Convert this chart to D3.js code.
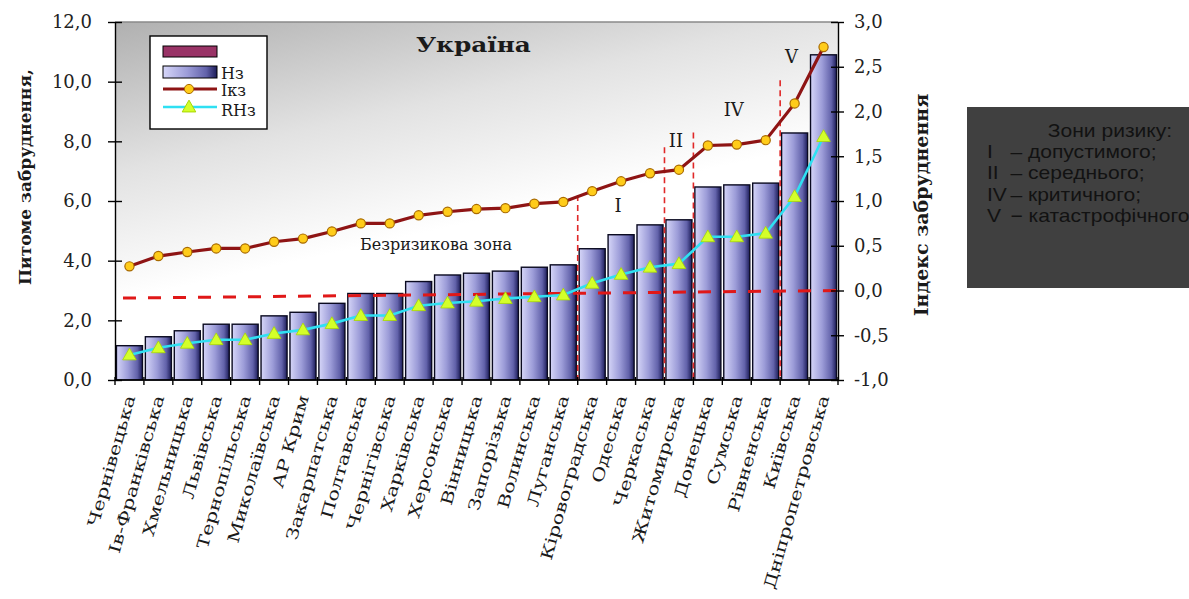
<!DOCTYPE html>
<html lang="uk">
<head>
<meta charset="UTF-8">
<title>Україна</title>
<script src="https://d3js.org/d3.v7.min.js"></script>
<style>
  body { margin: 0; background: #fff; }
  svg { display: block; }
  .serif { font-family: "DejaVu Serif", "Liberation Serif", serif; fill: #1a1a1a; }
  .axis text { font-family: "DejaVu Serif", serif; font-size: 18px; fill: #222; }
  .axis path, .axis line { stroke: #000; stroke-width: 1.4; }
</style>
</head>
<body>
<svg width="1189" height="599"></svg>
<script>
const regions = ["Чернівецька", "Ів-Франківська", "Хмельницька", "Львівська", "Тернопільська",
  "Миколаївська", "АР Крим", "Закарпатська", "Полтавська", "Чернігівська", "Харківська",
  "Херсонська", "Вінницька", "Запорізька", "Волинська", "Луганська", "Кіровоградська",
  "Одеська", "Черкаська", "Житомирська", "Донецька", "Сумська", "Рівненська", "Київська",
  "Дніпропетровська"];
// Питоме забруднення (ліва вісь)
const h3Values = [1.15, 1.45, 1.65, 1.87, 1.87, 2.15, 2.27, 2.57, 2.9, 2.9, 3.3, 3.52, 3.58,
  3.65, 3.78, 3.86, 4.4, 4.87, 5.2, 5.37, 6.47, 6.54, 6.6, 8.28, 10.9];
// Індекс забруднення (права вісь)
const ikzValues = [0.27, 0.385, 0.43, 0.47, 0.47, 0.545, 0.58, 0.66, 0.75, 0.75, 0.84, 0.88,
  0.91, 0.92, 0.97, 0.99, 1.11, 1.22, 1.31, 1.35, 1.62, 1.63, 1.68, 2.09, 2.72];
const rh3Values = [-0.72, -0.64, -0.59, -0.55, -0.55, -0.48, -0.44, -0.37, -0.28, -0.28, -0.17,
  -0.14, -0.12, -0.09, -0.07, -0.05, 0.08, 0.18, 0.26, 0.30, 0.60, 0.60, 0.64, 1.05, 1.72];
const leftTicks = [0, 2, 4, 6, 8, 10, 12];
const rightTicks = [-1, -0.5, 0, 0.5, 1, 1.5, 2, 2.5, 3];
// межі зон: після якого регіону і до якої висоти (ліва вісь)
const zoneBounds = [
  { after: "Луганська", top: 6.2 },
  { after: "Черкаська", top: 7.8 },
  { after: "Житомирська", top: 8.3 },
  { after: "Рівненська", top: 10.05 }
];
const zoneLabels = [
  { text: "I", after: "Одеська", y: 0.88 },
  { text: "II", after: "Житомирська", y: 1.6 },
  { text: "IV", after: "Сумська", y: 1.95 },
  { text: "V", after: "Київська", y: 2.54 }
];
const zeroLine = [-0.085, 0];
const riskLines = [
  { num: "I", txt: "– допустимого;" },
  { num: "II", txt: "– середнього;" },
  { num: "IV", txt: "– критичного;" },
  { num: "V", txt: "− катастрофічного" }
];

const data = regions.map((r, i) => ({ region: r, h3: h3Values[i], ikz: ikzValues[i], rh3: rh3Values[i] }));

const svg = d3.select("svg");
const plotL = 115, plotR = 838, plotT = 22, plotB = 380;

const x = d3.scaleBand().domain(regions).range([plotL, plotR]).paddingInner(0.1).paddingOuter(0.05);
const yL = d3.scaleLinear().domain([0, 12]).range([plotB, plotT]);
const yR = d3.scaleLinear().domain([-1, 3]).range([plotB, plotT]);
const cx = d => x(d) + x.bandwidth() / 2;
const edge = d => x(d) + x.bandwidth() + x.step() * x.paddingInner() / 2;

const defs = svg.append("defs");
const bg = defs.append("linearGradient").attr("id", "bg")
  .attr("x1", 0).attr("y1", 0).attr("x2", 0.45).attr("y2", 1);
bg.append("stop").attr("offset", 0).attr("stop-color", "#b0b0b0");
bg.append("stop").attr("offset", 0.35).attr("stop-color", "#e2e2e2");
bg.append("stop").attr("offset", 0.65).attr("stop-color", "#ffffff");

const barGrad = defs.append("linearGradient").attr("id", "bar").attr("x1", 0).attr("x2", 1).attr("y1", 0).attr("y2", 0);
barGrad.append("stop").attr("offset", 0).attr("stop-color", "#d6d6f8");
barGrad.append("stop").attr("offset", 0.45).attr("stop-color", "#9c9cd8");
barGrad.append("stop").attr("offset", 0.8).attr("stop-color", "#6262aa");
barGrad.append("stop").attr("offset", 1).attr("stop-color", "#1c1c58");

// фон області побудови
svg.append("rect").attr("x", plotL).attr("y", plotT).attr("width", plotR - plotL).attr("height", plotB - plotT)
  .attr("fill", "url(#bg)");
svg.append("line").attr("x1", plotL).attr("x2", plotR).attr("y1", plotT).attr("y2", plotT)
  .attr("stroke", "#8a8a8a").attr("stroke-width", 1.5);

// стовпчики
svg.append("g").selectAll("rect").data(data).join("rect")
  .attr("x", d => x(d.region)).attr("width", x.bandwidth())
  .attr("y", d => yL(d.h3)).attr("height", d => yL(0) - yL(d.h3))
  .attr("fill", "url(#bar)").attr("stroke", "#0a0a20").attr("stroke-width", 1.4);

// нульова лінія індексу
svg.append("line")
  .attr("x1", plotL + 8).attr("x2", plotR)
  .attr("y1", yR(zeroLine[0])).attr("y2", yR(zeroLine[1]))
  .attr("stroke", "#e01818").attr("stroke-width", 3).attr("stroke-dasharray", "13,12");

// межі зон
svg.append("g").selectAll("line").data(zoneBounds).join("line")
  .attr("x1", d => edge(d.after)).attr("x2", d => edge(d.after))
  .attr("y1", d => yL(d.top)).attr("y2", plotB)
  .attr("stroke", "#e02828").attr("stroke-width", 1.6).attr("stroke-dasharray", "6,4");

svg.append("g").selectAll("text").data(zoneLabels).join("text")
  .attr("class", "serif")
  .attr("x", d => cx(d.after) - 3).attr("y", d => yR(d.y))
  .attr("text-anchor", "middle").attr("font-size", 18)
  .text(d => d.text);

svg.append("text").attr("class", "serif")
  .attr("x", 360).attr("y", 250).attr("font-size", 16)
  .text("Безризикова зона");

// лінії
const lineIkz = d3.line().x(d => cx(d.region)).y(d => yR(d.ikz));
const lineRh3 = d3.line().x(d => cx(d.region)).y(d => yR(d.rh3));

svg.append("path").datum(data).attr("d", lineIkz)
  .attr("fill", "none").attr("stroke", "#8e1414").attr("stroke-width", 3.2);
svg.append("g").selectAll("circle").data(data).join("circle")
  .attr("cx", d => cx(d.region)).attr("cy", d => yR(d.ikz)).attr("r", 4.6)
  .attr("fill", "#ffcc1a").attr("stroke", "#a86a00").attr("stroke-width", 1.2);

svg.append("path").datum(data).attr("d", lineRh3)
  .attr("fill", "none").attr("stroke", "#2fe0f2").attr("stroke-width", 2.6);
const tri = d3.symbol(d3.symbolTriangle).size(80);
svg.append("g").selectAll("path").data(data).join("path")
  .attr("d", tri)
  .attr("transform", d => `translate(${cx(d.region)},${yR(d.rh3) + 1})`)
  .attr("fill", "#d4ff2a").attr("stroke", "#a8d800").attr("stroke-width", 0.8);

// осі
const fmt = v => d3.format(".1f")(v).replace(".", ",").replace("−", "-");

const axL = svg.append("g").attr("class", "axis").attr("transform", `translate(${plotL},0)`)
  .call(d3.axisLeft(yL).tickValues(leftTicks).tickFormat(fmt).tickSizeOuter(0));
axL.selectAll(".tick line").attr("x1", 7).attr("x2", -7);
axL.selectAll(".tick text").attr("x", -23);

const axR = svg.append("g").attr("class", "axis").attr("transform", `translate(${plotR},0)`)
  .call(d3.axisRight(yR).tickValues(rightTicks).tickFormat(fmt).tickSizeOuter(0));
axR.selectAll(".tick line").attr("x1", -7).attr("x2", 6);
axR.selectAll(".tick text").attr("x", 16);

const axB = svg.append("g").attr("class", "axis").attr("transform", `translate(0,${plotB})`);
axB.append("line").attr("x1", plotL).attr("x2", plotR).attr("stroke", "#000").attr("stroke-width", 1.6);
axB.selectAll(".bt").data([regions[0]].concat(regions)).join("line").attr("class", "bt")
  .attr("x1", (d, i) => i === 0 ? plotL : edge(d)).attr("x2", (d, i) => i === 0 ? plotL : edge(d))
  .attr("y1", -3).attr("y2", 5).attr("stroke", "#000").attr("stroke-width", 1.4);

svg.append("g").selectAll("text").data(regions).join("text")
  .attr("class", "serif")
  .attr("font-size", 16)
  .attr("text-anchor", "end")
  .attr("transform", d => `translate(${cx(d) + 6},${plotB + 17}) rotate(-74) scale(1.3,1)`)
  .text(d => d);

// заголовки осей
svg.append("text").attr("class", "serif").attr("font-weight", "bold").attr("font-size", 17)
  .attr("text-anchor", "middle")
  .attr("transform", "translate(31,177) rotate(-90)")
  .text("Питоме забруднення,");
svg.append("text").attr("class", "serif").attr("font-weight", "bold").attr("font-size", 19)
  .attr("text-anchor", "middle")
  .attr("transform", "translate(928,205) rotate(-90)")
  .text("Індекс забруднення");

// назва
svg.append("text").attr("class", "serif").attr("font-weight", "bold").attr("font-size", 21)
  .attr("transform", "translate(416,52) scale(1.18,1)").text("Україна");

// легенда
const lg = svg.append("g");
lg.append("rect").attr("x", 150).attr("y", 36).attr("width", 117).attr("height", 93)
  .attr("fill", "#fff").attr("stroke", "#000").attr("stroke-width", 1.4);
lg.append("rect").attr("x", 163).attr("y", 46).attr("width", 54).attr("height", 11)
  .attr("fill", "#993366").attr("stroke", "#000");
lg.append("rect").attr("x", 163).attr("y", 66).attr("width", 54).attr("height", 12)
  .attr("fill", "url(#bar)").attr("stroke", "#000");
lg.append("line").attr("x1", 163).attr("x2", 217).attr("y1", 89).attr("y2", 89)
  .attr("stroke", "#8e1414").attr("stroke-width", 3);
lg.append("circle").attr("cx", 189).attr("cy", 89).attr("r", 4.6)
  .attr("fill", "#ffcc1a").attr("stroke", "#a86a00");
lg.append("line").attr("x1", 163).attr("x2", 217).attr("y1", 107).attr("y2", 107)
  .attr("stroke", "#2fe0f2").attr("stroke-width", 2.6);
lg.append("path").attr("d", tri).attr("transform", "translate(189,108)")
  .attr("fill", "#d4ff2a").attr("stroke", "#a8d800");
[["Нз", 79], ["Ікз", 96], ["RНз", 116]].forEach(([t, y]) => {
  lg.append("text").attr("class", "serif").attr("x", 221).attr("y", y).attr("font-size", 16).text(t);
});

// блок зон ризику
const box = svg.append("g");
box.append("rect").attr("x", 967).attr("y", 107).attr("width", 222).attr("height", 181).attr("fill", "#404040");
const boxText = box.append("g").attr("transform", "translate(987,0) scale(1.17,1)")
  .attr("font-family", "'Liberation Sans', Arial, sans-serif").attr("font-size", 18).attr("fill", "#121212");
boxText.append("text").attr("x", 52).attr("y", 137).text("Зони ризику:");
riskLines.forEach((r, i) => {
  const t = boxText.append("text").attr("y", 158 + i * 21.3);
  t.append("tspan").attr("x", 0).text(r.num);
  t.append("tspan").attr("x", 20).text(r.txt);
});
</script>
</body>
</html>
